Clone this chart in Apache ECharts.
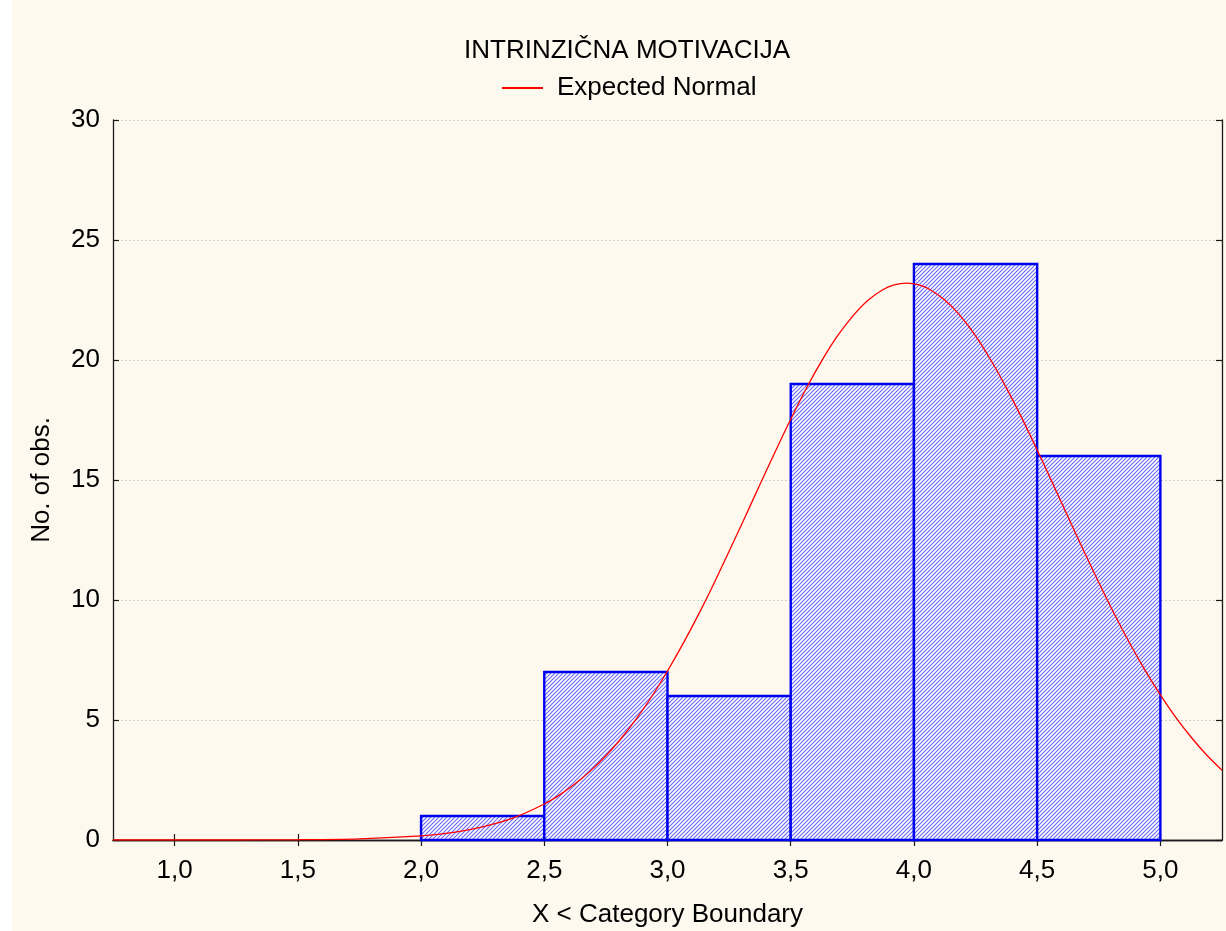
<!DOCTYPE html>
<html>
<head>
<meta charset="utf-8">
<script src="https://cdn.jsdelivr.net/npm/echarts@6/dist/echarts.min.js"></script>
<style>
html,body{margin:0;padding:0;background:#fff;}
#main{position:absolute;left:12px;top:0;width:1214px;height:931px;background:#fef9ef;}
</style>
</head>
<body>
<div id="main"></div>
<script>
// histogram bins
const binStarts = [2.0, 2.5, 3.0, 3.5, 4.0, 4.5];
const binEnds   = [2.5, 3.0, 3.5, 4.0, 4.5, 5.0];
const counts    = [1, 7, 6, 19, 24, 16];

// expected normal curve
const curveX = [0.75, 1.0, 1.25, 1.5, 1.75, 2.0, 2.125, 2.25, 2.375, 2.5,
  2.5625, 2.625, 2.6875, 2.75, 2.8125, 2.875, 2.9375, 3.0, 3.0625, 3.125, 3.1875,
  3.25, 3.3125, 3.375, 3.4375, 3.5, 3.5625, 3.625, 3.6875, 3.75, 3.8125, 3.875, 3.92,
  3.97, 4.02, 4.0625, 4.125, 4.1875, 4.25, 4.3125, 4.375, 4.4375, 4.5, 4.5625, 4.625, 4.6875,
  4.75, 4.8125, 4.875, 4.9375, 5.0, 5.0625, 5.125, 5.1875, 5.25];
const curveY = [0, 0, 0, 0.01, 0.05, 0.17, 0.31, 0.55, 0.92, 1.5,
  1.88, 2.34, 2.88, 3.51, 4.24, 5.07, 6.0, 7.04, 8.17, 9.38, 10.67,
  12.03, 13.41, 14.81, 16.19, 17.53, 18.8, 19.95, 20.97, 21.81, 22.48, 22.94, 23.13,
  23.2, 23.13, 22.95, 22.5, 21.85, 21.01, 19.99, 18.84, 17.59, 16.25, 14.87, 13.47, 12.08,
  10.73, 9.43, 8.21, 7.08, 6.05, 5.11, 4.28, 3.54, 2.91];

const xTicks = [1.0, 1.5, 2.0, 2.5, 3.0, 3.5, 4.0, 4.5, 5.0];

// diagonal hatch fill
function hatch(){
    const c = document.createElement('canvas')
    c.width = 4; c.height = 4
    const ctx = c.getContext('2d')
    ctx.fillStyle = '#ffffff'
    ctx.fillRect(0,0,4,4)
    ctx.strokeStyle = '#6868f5'
    ctx.lineWidth = 1.15
    ctx.beginPath()
    ctx.moveTo(0,4); ctx.lineTo(4,0)
    ctx.moveTo(-1,1); ctx.lineTo(1,-1)
    ctx.moveTo(3,5); ctx.lineTo(5,3)
    ctx.stroke()
    return c
}

const chart = echarts.init(document.getElementById('main'))
const font = 'Liberation Sans, Arial, sans-serif'
const axisLine = {show:true, lineStyle:{color:'#1a1a1a', width:1.3}}
const tick = {show:true, inside:true, length:6, lineStyle:{color:'#1a1a1a', width:1.2}}

const option = {
    animation:false,
    textStyle:{fontFamily:font},
    title:{
        text:'INTRINZIČNA MOTIVACIJA',
        left:615,
        textAlign:'center',
        top:38,
        padding:0,
        textStyle:{fontSize:26, fontWeight:'normal', color:'#000', fontFamily:font}
    },
    legend:{
        left:490,
        top:75,
        padding:0,
        itemWidth:41,
        itemHeight:2,
        itemGap:14,
        icon:'rect',
        data:['Expected Normal'],
        textStyle:{fontSize:26, color:'#000', fontFamily:font, padding:[0,0,0,9]}
    },
    grid:{left:101, right:4, top:120, bottom:91, outerBoundsMode:'none'},
    xAxis:[{
        type:'value', min:0.75, max:5.25,
        axisLine:axisLine,
        axisTick:Object.assign({customValues:xTicks}, tick),
        axisLabel:{customValues:xTicks, fontSize:26, color:'#000', margin:18,
            formatter:v => v.toFixed(1).replace('.', ',')},
        splitLine:{show:false},
        name:'X < Category Boundary',
        nameLocation:'middle',
        nameGap:62,
        nameTextStyle:{fontSize:26, color:'#000'}
    },{
        type:'value', min:0.75, max:5.25, position:'top',
        axisLine:axisLine,
        axisTick:Object.assign({customValues:xTicks}, tick),
        axisLabel:{show:false},
        splitLine:{show:false}
    }],
    yAxis:[{
        type:'value', min:0, max:30, interval:5,
        axisLine:axisLine,
        axisTick:tick,
        axisLabel:{fontSize:26, color:'#000', margin:13},
        splitLine:{show:true, lineStyle:{color:'#cfcfcf', type:[2,2], width:1}},
        name:'No. of obs.',
        nameLocation:'middle',
        nameGap:58,
        nameTextStyle:{fontSize:26, color:'#000'}
    },{
        type:'value', min:0, max:30, interval:5, position:'right',
        axisLine:axisLine,
        axisTick:tick,
        axisLabel:{show:false},
        splitLine:{show:false}
    }],
    series:[{
        type:'custom',
        name:'hist',
        data:counts.map((c,i)=>[binStarts[i], binEnds[i], c]),
        renderItem:function(params, api){
            const p0 = api.coord([api.value(0), 0])
            const p1 = api.coord([api.value(1), api.value(2)])
            return {
                type:'rect',
                shape:{x:p0[0], y:p1[1], width:p1[0]-p0[0], height:p0[1]-p1[1]},
                style:{fill:{image:hatch(), repeat:'repeat'}, stroke:'#0000f0', lineWidth:2.4}
            }
        },
        z:2
    },{
        type:'line',
        name:'Expected Normal',
        data:curveX.map((x,i)=>[x, curveY[i]]),
        smooth:0.3,
        showSymbol:false,
        symbol:'none',
        clip:true,
        lineStyle:{color:'#ff0000', width:1.3},
        itemStyle:{color:'#ff0000'},
        z:3
    }]
}
chart.setOption(option)
</script>
</body>
</html>
